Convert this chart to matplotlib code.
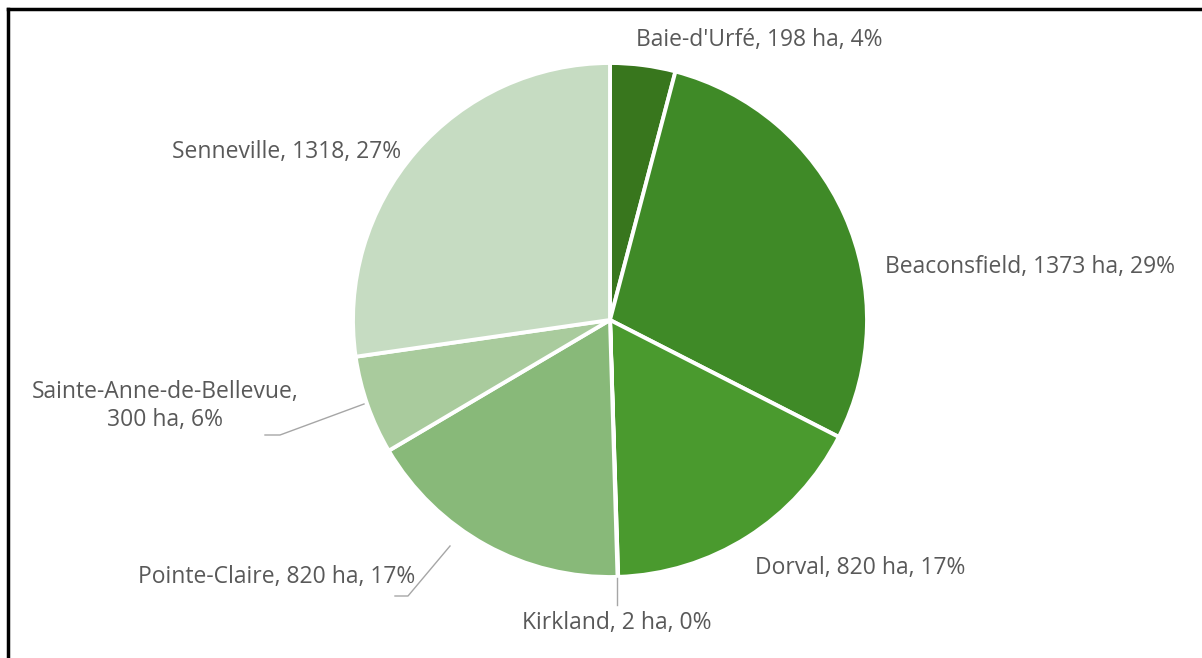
import matplotlib.pyplot as plt
from matplotlib.lines import Line2D

# superficie par municipalite (ha)
villes = ["Baie-d'Urfé", "Beaconsfield", "Dorval", "Kirkland",
          "Pointe-Claire", "Sainte-Anne-de-Bellevue", "Senneville"]
superficie = [198, 1373, 820, 2, 820, 300, 1318]
etiquettes = ["Baie-d'Urfé, 198 ha, 4%",
              "Beaconsfield, 1373 ha, 29%",
              "Dorval, 820 ha, 17%",
              "Kirkland, 2 ha, 0%",
              "Pointe-Claire, 820 ha, 17%",
              "Sainte-Anne-de-Bellevue,\n300 ha, 6%",
              "Senneville, 1318, 27%"]
couleurs = ["#38761d", "#3f8a27", "#4a9a2e", "#6aa84f",
            "#88b979", "#a9cb9d", "#c6dcc2"]

# positions des etiquettes (pixels, origine en haut a gauche)
pos_etiq = [(759, 40), (1030, 267), (860, 568), (617, 623),
            (277, 577), (165, 406), (287, 152)]
# lignes de rappel
rappels = {3: [(617, 578), (617, 605)],
           4: [(450, 546), (408, 596), (395, 596)],
           5: [(364, 404), (280, 435), (265, 435)]}

W, H = 1202, 658
fig = plt.figure(figsize=(W / 100, H / 100), dpi=100)
ax = fig.add_axes([0, 0, 1, 1])

ax.pie(superficie, colors=couleurs, startangle=90, counterclock=False,
       center=(610, H - 320), radius=257, frame=True,
       wedgeprops=dict(edgecolor="white", linewidth=2.8))
ax.set_xlim(0, W)
ax.set_ylim(0, H)
ax.axis("off")

for i, txt in enumerate(etiquettes):
    x, y = pos_etiq[i]
    ax.text(x, H - y, txt, ha="center", va="center", fontsize=16.5,
            color="#595959", family="Open Sans", linespacing=1.2)

for pts in rappels.values():
    xs = [p[0] for p in pts]
    ys = [H - p[1] for p in pts]
    ax.plot(xs, ys, color="#a6a6a6", lw=1)

# cadre (haut et gauche)
fig.add_artist(Line2D([8 / W, 1], [1 - 9 / H, 1 - 9 / H], color="black", lw=2.5))
fig.add_artist(Line2D([8 / W, 8 / W], [0, 1 - 9 / H], color="black", lw=2.5))

fig.savefig("out.png", dpi=100)
